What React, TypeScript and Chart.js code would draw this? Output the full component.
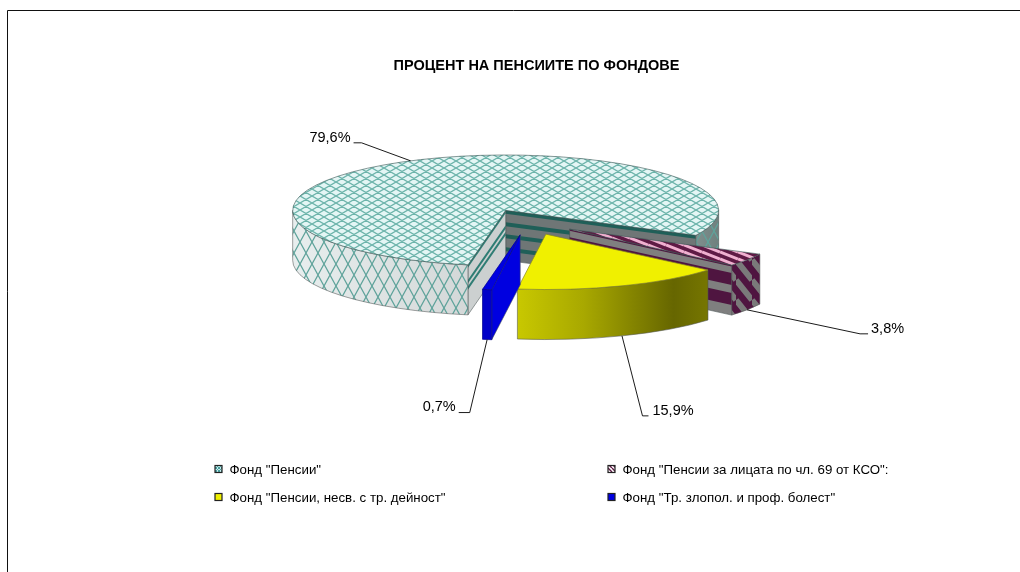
import React, { useEffect, useRef } from "react";
import { Chart, PieController, registerables } from "chart.js";

const TITLE = "ПРОЦЕНТ НА ПЕНСИИТЕ ПО ФОНДОВЕ";
const categories = [
  'Фонд "Пенсии"',
  'Фонд "Пенсии за лицата по чл. 69 от КСО":',
  'Фонд "Пенсии, несв. с тр. дейност"',
  'Фонд "Тр. злопол. и проф. болест"',
];
const shares = [79.6, 3.8, 15.9, 0.7];
const baseColours = ["#c8e8e4", "#5f1a45", "#f0f000", "#0000e0"];

// label leader elbows, relative to the slice's rim anchor
const leaderElbows = [
  { dx: -49, dy: -18, side: -1, run: 8, gap: 3, lift: 4.5 },
  { dx: 113, dy: 24, side: 1, run: 8, gap: 3, lift: 5 },
  { dx: 20.5, dy: 80, side: 1, run: 6, gap: 4, lift: 5 },
  { dx: -17.4, dy: 73, side: -1, run: 11, gap: 3, lift: 6 },
];
const legendSlots = [
  { col: 0, row: 0 },
  { col: 1, row: 0 },
  { col: 0, row: 1 },
  { col: 1, row: 1 },
];

const FONT = '"Liberation Sans", Arial, sans-serif';
const VIEW = { dx: -8.5, cy: 222, k: 0.26, depth: 50 };

const tile = (w: number, h: number, paint: (c: CanvasRenderingContext2D) => void) => {
  const cv = document.createElement("canvas");
  cv.width = w;
  cv.height = h;
  const c = cv.getContext("2d")!;
  paint(c);
  return c.createPattern(cv, "repeat")!;
};

const cross = (w: number, h: number, bg: string | null, fg: string, lw: number) =>
  tile(w, h, (c) => {
    if (bg) {
      c.fillStyle = bg;
      c.fillRect(0, 0, w, h);
    }
    c.strokeStyle = fg;
    c.lineWidth = lw;
    c.beginPath();
    for (const ox of [-w, 0, w]) {
      c.moveTo(ox, 0);
      c.lineTo(ox + w, h);
      c.moveTo(ox + w, 0);
      c.lineTo(ox, h);
    }
    c.stroke();
  });

const diag = (w: number, h: number, bg: string, fg: string, lw: number) =>
  tile(w, h, (c) => {
    c.fillStyle = bg;
    c.fillRect(0, 0, w, h);
    c.strokeStyle = fg;
    c.lineWidth = lw;
    c.beginPath();
    for (const o of [-1, 0, 1]) {
      c.moveTo(0, o * h);
      c.lineTo(w, h + o * h);
    }
    c.stroke();
  });

function facePaths(arc: any) {
  const mid = (arc.startAngle + arc.endAngle) / 2;
  const offset = arc.options.offset || 0;
  const ax = arc.x + VIEW.dx + Math.cos(mid) * offset;
  const ay = VIEW.cy + Math.sin(mid) * offset * VIEW.k;
  const R = arc.outerRadius;
  const pt = (t: number) => ({ x: ax + R * Math.cos(t), y: ay + R * VIEW.k * Math.sin(t) });
  return { mid, ax, ay, R, pt };
}

function cutWall(
  ctx: CanvasRenderingContext2D,
  p0: { x: number; y: number },
  p1: { x: number; y: number },
  bg: string,
  fg: string,
  bands: number[][],
) {
  const d = VIEW.depth;
  const quad = (t0: number, t1: number) => {
    ctx.beginPath();
    ctx.moveTo(p0.x, p0.y + t0 * d);
    ctx.lineTo(p1.x, p1.y + t0 * d);
    ctx.lineTo(p1.x, p1.y + t1 * d);
    ctx.lineTo(p0.x, p0.y + t1 * d);
    ctx.closePath();
  };
  quad(0, 1);
  ctx.fillStyle = bg;
  ctx.fill();
  ctx.fillStyle = fg;
  for (const [a, b] of bands) {
    quad(a, b);
    ctx.fill();
  }
  quad(0, 1);
  ctx.strokeStyle = "rgba(70,80,80,0.8)";
  ctx.lineWidth = 0.7;
  ctx.stroke();
}

function visibleRanges(s: number, e: number) {
  const out: number[][] = [];
  const TAU = Math.PI * 2;
  for (let n = -1; n < 3; n++) {
    const a = Math.max(s, n * TAU);
    const b = Math.min(e, n * TAU + Math.PI);
    if (b > a) out.push([a, b]);
  }
  return out;
}

class Pie3DController extends PieController {
  static id = "pie3d";
  static defaults = {};
  draw() {
    const ctx = this.chart.ctx as CanvasRenderingContext2D;
    const arcs: any[] = this._cachedMeta.data as any[];
    const topPats = [
      cross(12, 7, "#e4f6f5", "#6db4ab", 1.3),
      diag(18, 7, "#5f1a45", "#f0b0d0", 3),
    ];
    const wallHatch = cross(12, 22, null, "#5fa39b", 1.3);
    const redWall = diag(16, 20, "#4f1540", "#7a7a7a", 6);
    arcs.forEach((arc, i) => {
      const { ax, ay, R, pt } = facePaths(arc);
      const s = arc.startAngle;
      const e = arc.endAngle;
      const apex = { x: ax, y: ay };
      // radial cut faces
      if (i === 0) {
        cutWall(ctx, apex, pt(e), "#6f7676", "#1f5f58", [[0, 0.07], [0.24, 0.32], [0.48, 0.56], [0.74, 0.82]]);
        cutWall(ctx, apex, pt(s), "#ccd0d0", "#2f7d74", [[0, 0.06], [0.3, 0.37], [0.43, 0.5]]);
      } else if (i === 1) {
        cutWall(ctx, apex, pt(e), "#7f7f7f", "#4f1540", [[0, 0.03], [0.16, 0.4], [0.56, 0.8]]);
      } else if (i === 3) {
        cutWall(ctx, apex, pt(s), "#0000e0", "#0000e0", []);
      }
      // outer rim
      for (const [a, b] of visibleRanges(s, e)) {
        ctx.beginPath();
        ctx.ellipse(ax, ay, R, R * VIEW.k, 0, a, b);
        ctx.ellipse(ax, ay + VIEW.depth, R, R * VIEW.k, 0, b, a, true);
        ctx.closePath();
        if (i === 0) {
          const g = ctx.createLinearGradient(ax - R, 0, ax + R, 0);
          g.addColorStop(0, "#e8eeee");
          g.addColorStop(0.45, "#d2d6d6");
          g.addColorStop(0.9, "#8d9d9b");
          g.addColorStop(1, "#6f807e");
          ctx.fillStyle = g;
          ctx.fill();
          ctx.fillStyle = wallHatch;
          ctx.fill();
        } else if (i === 1) {
          ctx.fillStyle = redWall;
          ctx.fill();
        } else if (i === 2) {
          const x0 = pt(b).x;
          const x1 = pt(a).x;
          const g = ctx.createLinearGradient(x0, 0, x1, 0);
          g.addColorStop(0, "#c8c800");
          g.addColorStop(0.35, "#a8a800");
          g.addColorStop(0.82, "#666600");
          g.addColorStop(1, "#767600");
          ctx.fillStyle = g;
          ctx.fill();
        } else {
          ctx.fillStyle = "#0000c8";
          ctx.fill();
        }
        ctx.strokeStyle = i === 3 ? "#000090" : "rgba(80,85,85,0.8)";
        ctx.lineWidth = 0.7;
        ctx.stroke();
      }
      // top face
      ctx.beginPath();
      ctx.moveTo(ax, ay);
      ctx.ellipse(ax, ay, R, R * VIEW.k, 0, s, e);
      ctx.closePath();
      ctx.fillStyle = topPats[i] || arc.options.backgroundColor;
      ctx.fill();
      ctx.strokeStyle = i === 3 ? "#000090" : i === 2 ? "#8a8a20" : "rgba(55,85,82,0.85)";
      ctx.lineWidth = 0.7;
      ctx.stroke();
    });
  }
}

Chart.register(...registerables, Pie3DController as any);

const decorations = {
  id: "decorations",
  beforeDraw(chart: any) {
    const c = chart.ctx as CanvasRenderingContext2D;
    c.save();
    c.strokeStyle = "#111";
    c.lineWidth = 1;
    c.beginPath();
    c.moveTo(7.5, chart.height);
    c.lineTo(7.5, 10.5);
    c.lineTo(chart.width, 10.5);
    c.stroke();
    c.restore();
  },
  afterDatasetsDraw(chart: any) {
    const c = chart.ctx as CanvasRenderingContext2D;
    const arcs = chart.getDatasetMeta(0).data;
    c.save();
    // value labels with leader lines
    arcs.forEach((arc: any, i: number) => {
      const { mid, pt } = facePaths(arc);
      const p = pt(mid);
      const ay = p.y + (Math.sin(mid) > 0 ? VIEW.depth : 0);
      const el = leaderElbows[i];
      const ex = p.x + el.dx;
      const ey = ay + el.dy;
      c.strokeStyle = "#000";
      c.lineWidth = 0.9;
      c.beginPath();
      c.moveTo(p.x, ay);
      c.lineTo(ex, ey);
      c.lineTo(ex + el.side * el.run, ey);
      c.stroke();
      c.fillStyle = "#000";
      c.font = `14.5px ${FONT}`;
      c.textBaseline = "middle";
      c.textAlign = el.side < 0 ? "right" : "left";
      const txt = shares[i].toFixed(1).replace(".", ",") + "%";
      c.fillText(txt, ex + el.side * (el.run + el.gap), ey - el.lift);
    });
    // legend
    const legendPats = [
      cross(3, 3, "#c8ecec", "#4aa0a0", 1),
      diag(4, 4, "#ffffff", "#5f1a45", 1.4),
    ];
    categories.forEach((label, i) => {
      const slot = legendSlots[i];
      const x = slot.col === 0 ? 215 : 608;
      const y = slot.row === 0 ? 469 : 497;
      c.fillStyle = legendPats[i] || baseColours[i];
      c.fillRect(x, y - 3.5, 7, 7);
      c.strokeStyle = "#222";
      c.lineWidth = 1.2;
      c.strokeRect(x, y - 3.5, 7, 7);
      c.fillStyle = "#000";
      c.font = `13.3px ${FONT}`;
      c.textAlign = "left";
      c.textBaseline = "middle";
      c.fillText(label, x + 14.5, y + 1);
    });
    c.restore();
  },
};

export default function App() {
  const ref = useRef<HTMLCanvasElement>(null);
  useEffect(() => {
    const chart = new Chart(ref.current!, {
      type: "pie3d" as any,
      data: {
        labels: categories,
        datasets: [
          {
            data: shares,
            backgroundColor: baseColours,
            borderWidth: 0,
            offset: 50,
          } as any,
        ],
      },
      options: {
        responsive: false,
        animation: false,
        rotation: 190.2,
        radius: 213,
        layout: { padding: { left: 53 } },
        events: [],
        plugins: {
          legend: { display: false },
          tooltip: { enabled: false },
          title: {
            display: true,
            text: TITLE,
            color: "#000",
            font: { family: FONT, size: 14.5, weight: "bold" },
            padding: { top: 57, bottom: 10 },
          },
        },
      } as any,
      plugins: [decorations],
    });
    return () => chart.destroy();
  }, []);
  return (
    <canvas
      ref={ref}
      width={1020}
      height={572}
      style={{ position: "fixed", left: 0, top: 0, width: 1020, height: 572, display: "block" }}
    />
  );
}
